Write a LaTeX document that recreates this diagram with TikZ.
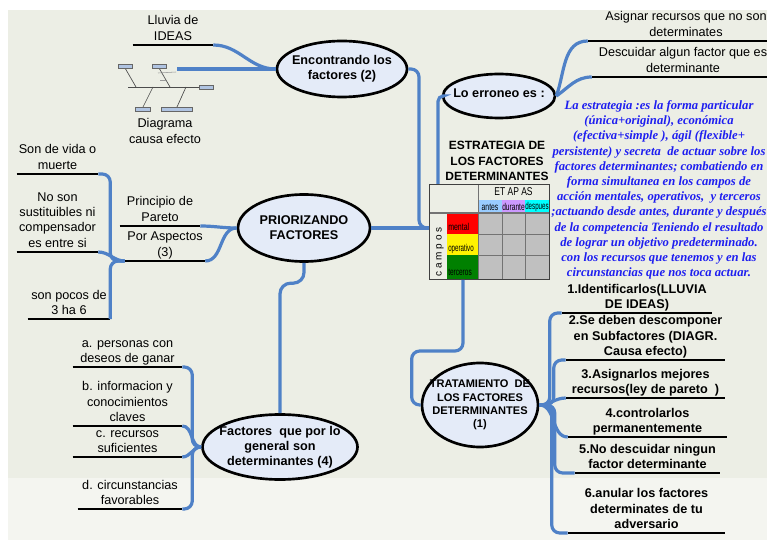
\documentclass[tikz,border=0pt]{standalone}
\usepackage{fontspec}
\setmainfont{Liberation Sans}
\newfontfamily\defnfont{Liberation Serif}
\usetikzlibrary{calc,shapes.geometric}

\definecolor{bgpaper}{RGB}{236,238,229}
\definecolor{bglow}{RGB}{244,245,240}
\definecolor{linkblue}{RGB}{79,129,199}
\definecolor{bubblefill}{RGB}{228,235,248}
\definecolor{defnblue}{RGB}{30,30,240}
\definecolor{cellgrey}{RGB}{192,192,192}
\definecolor{antesc}{RGB}{153,204,255}
\definecolor{durantec}{RGB}{204,153,255}
\definecolor{despuesc}{RGB}{0,255,255}
\definecolor{tercgreen}{RGB}{0,128,0}
\definecolor{boxblue}{RGB}{176,196,226}

\tikzset{
  bubble/.style={ellipse, draw=black, line width=2pt, fill=bubblefill, inner sep=0pt},
  bubbletext/.style={align=center, inner sep=0pt, font=\bfseries\fontsize{9.5}{11.3}\selectfont},
  leaf/.style={anchor=south, align=center, inner xsep=0pt, inner ysep=3.5pt, text depth=0pt,
    minimum width=#1*0.75pt, font=\fontsize{9.5}{11.3}\selectfont},
  leafb/.style={leaf=#1, font=\bfseries\fontsize{9.5}{11.3}\selectfont},
  bar/.style={line width=2.2pt, black},
  link/.style={draw=linkblue, line width=2.4pt, rounded corners=6pt},
  tabtext/.style={font=\fontsize{7.5}{8}\selectfont, inner sep=0pt},
  cellline/.style={draw=black!55, line width=0.6pt},
}

\begin{document}
\begin{tikzpicture}[x=0.75pt, y=-0.75pt]
    \useasboundingbox (0,0) rectangle (767,545);
    % paper
    \fill[white] (0,0) rectangle (767,545);
    \fill[bgpaper] (8,10) rectangle (767,478);
    \fill[bglow] (8,478) rectangle (767,540);

    % bubbles
    \node[bubble, minimum width=97.5pt, minimum height=42pt] (enc) at (342,69) {};
    \node[bubbletext] (enclbl) at (enc) {Encontrando los\\factores (2)};
    \node[bubble, minimum width=84pt, minimum height=33pt] (err) at (499,96) {};
    \node[bubbletext] (errlbl) at (499,93) {Lo erroneo es :};
    \node[bubble, minimum width=99pt, minimum height=50.25pt] (prio) at (304,228) {};
    \node[bubbletext] (priolbl) at (prio) {PRIORIZANDO\\FACTORES};
    \node[bubble, minimum width=116.25pt, minimum height=48.75pt] (fact) at (280,447) {};
    \node[bubbletext] (factlbl) at (fact) {Factores~~que por lo\\general son\\determinantes (4)};
    \node[bubble, minimum width=87pt, minimum height=63pt] (trat) at (480,405) {};
    \node[bubbletext, font=\bfseries\fontsize{8.3}{10}\selectfont] (tratlbl) at (trat) {TRATAMIENTO~~DE\\LOS FACTORES\\DETERMINANTES\\(1)};

    % branches
    \node[leaf=80] (lluvia) at (173,45) {Lluvia de\\IDEAS};
    \node[leaf=196] (asignar) at (686,41) {Asignar recursos que no son\\determinates};
    \node[leaf=182] (descuidar) at (683,77) {Descuidar algun factor que es\\determinante};
    \node[leaf=80] (pareto) at (160,226) {Principio de\\Pareto};
    \node[leaf=80] (aspectos) at (165,261) {Por Aspectos\\(3)};
    \node[leaf=81] (vida) at (57.5,174) {Son de vida o\\muerte};
    \node[leaf=81] (sustituibles) at (57.5,252) {No son\\sustituibles ni\\compensador\\es entre si};
    \node[leaf=82] (pocos) at (69,319) {son pocos de\\3 ha 6};
    \node[leaf=109] (personas) at (127.5,367) {a. personas con\\deseos de ganar};
    \node[leaf=109] (informacion) at (127.5,426) {b. informacion y\\conocimientos\\claves};
    \node[leaf=109] (recursos) at (127.5,457) {c. recursos\\suficientes};
    \node[leaf=104] (circunst) at (130,509) {d. circunstancias\\favorables};
    \node[leafb=150] (paso1) at (637,313) {1.Identificarlos(LLUVIA\\DE IDEAS)};
    \node[leafb=159] (paso2) at (645.5,360) {2.Se deben descomponer\\en Subfactores (DIAGR.\\Causa efecto)};
    \node[leafb=159] (paso3) at (645.5,398) {3.Asignarlos mejores\\recursos(ley de pareto~~)};
    \node[leafb=159] (paso4) at (647.5,437) {4.controlarlos\\permanentemente};
    \node[leafb=145] (paso5) at (647.5,473) {5.No descuidar ningun\\factor determinante};
    \node[leafb=157] (paso6) at (646.5,533) {6.anular los factores\\determinates de tu\\adversario};
    \foreach \n in {lluvia,asignar,descuidar,pareto,aspectos,vida,sustituibles,pocos,
        personas,informacion,recursos,circunst,paso1,paso2,paso3,paso4,paso5,paso6}
        \draw[bar] (\n.south west) -- (\n.south east);

    % fishbone sketch
    \draw[black!70, line width=0.5pt] (128,87) -- (199,87);
    \draw[black!70, line width=0.5pt] (125,68) -- (136,87);
    \draw[black!70, line width=0.5pt] (159,68) -- (170,87);
    \draw[black!70, line width=0.5pt] (153,87) -- (143,107);
    \draw[black!70, line width=0.5pt] (186,87) -- (177,107);
    \draw[black!40, line width=0.4pt] (158,73) -- (176,72);
    \draw[black!40, line width=0.4pt] (160,80) -- (166,80);
    \foreach \a/\b/\c/\d in {118/64/132/68, 152/64/166/68, 199/85/213/89, 135/107/150/111, 161/107/192/111}
        \draw[fill=boxblue, draw=black!60, line width=0.4pt] (\a,\b) rectangle (\c,\d);
    \coordinate (fishend) at (177,69);
    \node[align=center, font=\fontsize{9.5}{11.3}\selectfont] (fishcap) at (165,131) {Diagrama\\causa efecto};

    % title and table
    \node[align=center, font=\bfseries\fontsize{9}{11.8}\selectfont] (title) at (497,161) {ESTRATEGIA DE\\LOS FACTORES\\DETERMINANTES};
    \fill[antesc] (478,200) rectangle (502,213);
    \fill[durantec] (502,200) rectangle (525,213);
    \fill[despuesc] (525,200) rectangle (549,213);
    \fill[red] (447,213) rectangle (478,234);
    \fill[yellow] (447,234) rectangle (478,255);
    \fill[tercgreen] (447,255) rectangle (478,279);
    \fill[cellgrey] (478,213) rectangle (549,279);
    \draw[cellline] (478,184) -- (478,279);
    \draw[cellline, line width=0.9pt] (429,213) -- (549,213);
    \foreach \x in {502,525} \draw[cellline] (\x,213) -- (\x,279);
    \foreach \y in {234,255} \draw[cellline] (478,\y) -- (549,\y);
    \node[draw=black!75, line width=0.7pt, minimum width=90pt, minimum height=71.25pt,
        inner sep=0pt, anchor=north west] (tab) at (429,184) {};
    \node[tabtext, font=\fontsize{8.5}{9}\selectfont] (etapas) at (513.5,192) {\scalebox{.75}[1]{ET AP AS}};
    \node[tabtext] (antes) at (490,207) {\scalebox{.68}[1]{antes}};
    \node[tabtext] (durante) at (513.5,207) {\scalebox{.66}[1]{durante}};
    \node[tabtext] (despues) at (537,207) {\scalebox{.62}[1]{despues}};
    \node[tabtext, anchor=base west] (mental) at (448,231) {\scalebox{.7}[1]{mental}};
    \node[tabtext, anchor=base west] (operativo) at (448,252) {\scalebox{.62}[1]{operativo}};
    \node[tabtext, anchor=base west] (terceros) at (448,276) {\scalebox{.65}[1]{terceros}};
    \node[tabtext, rotate=90] (campos) at (440,252) {c a m p o s};
    \coordinate (hub) at (prio.east -| tab.west);

    % definition text
    \node[align=center, text=defnblue, font=\defnfont\bfseries\itshape\fontsize{9.5}{11.4}\selectfont] (defn) at (659,190)
        {La estrategia :es la forma particular\\(única+original), económica\\(efectiva+simple ), ágil (flexible+\\persistente) y secreta~~de actuar sobre los\\factores determinantes; combatiendo en\\forma simultanea en los campos de\\acción mentales, operativos,~~y terceros\\;actuando desde antes, durante y después\\de la competencia Teniendo el resultado\\de lograr un objetivo predeterminado.\\con los recursos que tenemos y en las\\circunstancias que nos toca actuar.};

    % links
    \draw[link] (lluvia.south east) to[out=0, in=180] (enc.west);
    \draw[link] (fishend) -- (enc.west);
    \draw[link] (enc.east) -| ($(hub)+(-10,0)$) -- (hub);
    \draw[link, rounded corners=4pt] (err.west) -| ($(tab.north west)+(9,0)$);
    \draw[link] (err.east) to[out=70, in=180] (asignar.south west);
    \draw[link] (err.east) to[out=35, in=180] (descuidar.south west);
    \draw[link] (prio.east) -- (hub);
    \draw[link, rounded corners=8pt] (prio.south) |- ($(fact.north)+(0,-130)$) -- (fact.north);
    \draw[link] (prio.west) to[out=180, in=0] (pareto.south east);
    \draw[link] (prio.west) to[out=180, in=0] (aspectos.south east);
    \draw[link] (aspectos.south west) -| ($(vida.south east)+(12,0)$) -- (vida.south east);
    \draw[link] (aspectos.south west) to[out=180, in=0] (sustituibles.south east);
    \draw[link] (aspectos.south west) -| (pocos.south east);
    \draw[link] (fact.west) -| ($(personas.south east)+(10,0)$) -- (personas.south east);
    \draw[link] (fact.west) to[out=180, in=0] (informacion.south east);
    \draw[link] (fact.west) to[out=180, in=0] (recursos.south east);
    \draw[link] (fact.west) -| ($(circunst.south east)+(10,0)$) -- (circunst.south east);
    \draw[link] ($(tab.south west)+(34,0)$) |- ($(trat.west)+(-9,-54)$) |- (trat.west);
    \draw[link] (trat.east) -| ($(paso1.south west)+(-12,0)$) -- (paso1.south west);
    \draw[link] (trat.east) -| ($(paso2.south west)+(-12,0)$) -- (paso2.south west);
    \draw[link] (trat.east) to[out=0, in=180] (paso3.south west);
    \draw[link] (trat.east) to[out=0, in=180] (paso4.south west);
    \draw[link] (trat.east) -| ($(paso5.south west)+(-20,0)$) -- (paso5.south west);
    \draw[link] (trat.east) -| ($(paso6.south west)+(-16,0)$) -- (paso6.south west);
\end{tikzpicture}
\end{document}
